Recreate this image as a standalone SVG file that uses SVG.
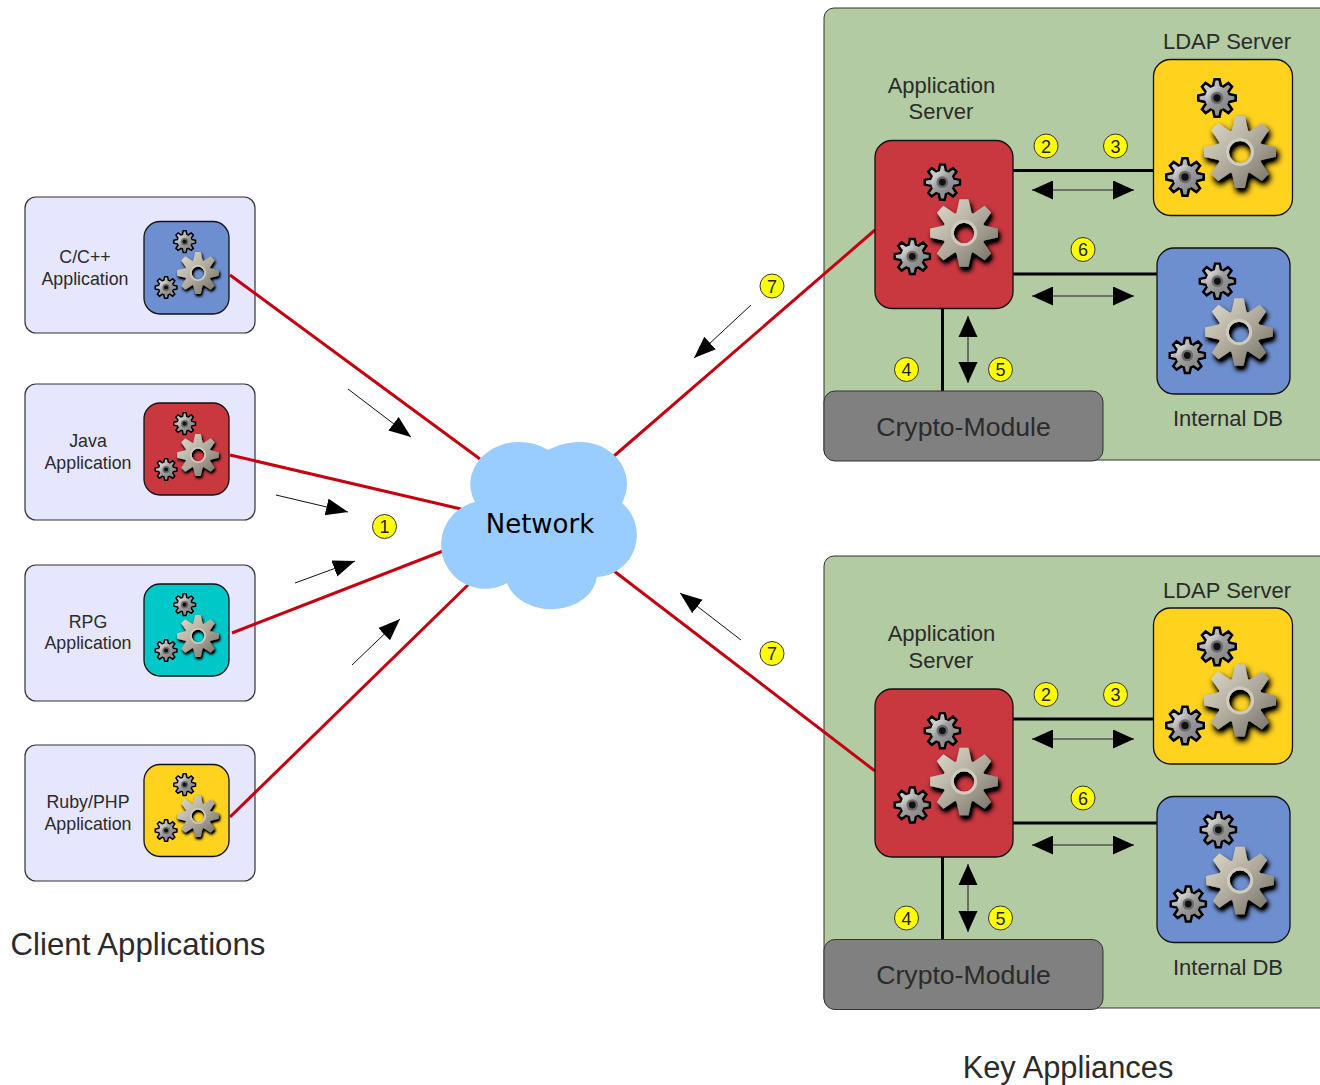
<svg xmlns="http://www.w3.org/2000/svg" width="1320" height="1085" viewBox="0 0 1320 1085">
<style>
text{font-family:"Liberation Sans",Arial,sans-serif;fill:#2b2b2b;text-anchor:middle}
.app{fill:#e6e6ff;stroke:#333;stroke-width:1.2}
.tile{stroke:#111;stroke-width:1.3}
.panel{fill:#b2cba3;stroke:#333;stroke-width:1}
.crypto{fill:#808080;stroke:#333;stroke-width:1}
.red{stroke:#c8000f;stroke-width:3;fill:none}
.blk{stroke:#000;stroke-width:3;fill:none}
.dbl{stroke:#555;stroke-width:1.6;fill:none;marker-start:url(#hs);marker-end:url(#he)}
.thin{stroke:#111;stroke-width:1;fill:none;marker-end:url(#ha)}
.num circle{fill:#ff0;stroke:#333;stroke-width:1}
.num text{font-size:18px;fill:#222}
.t13{font-size:17.8px}
.t21{font-size:22px}
.t23{font-size:22px}
.t28{font-size:26.6px}
.t31{font-size:31.2px}
.t31k{font-size:30.8px}
</style>
<defs>
<linearGradient id="gb" x1="0" y1="0" x2="1" y2="1"><stop offset="0" stop-color="#e4e0d2"/><stop offset=".5" stop-color="#b0ab9c"/><stop offset="1" stop-color="#6f6b62"/></linearGradient>
<linearGradient id="gs" x1="0" y1="0" x2="1" y2="1"><stop offset="0" stop-color="#f2f2f2"/><stop offset=".45" stop-color="#a0a0a0"/><stop offset="1" stop-color="#808080"/></linearGradient>
<filter id="sh" x="-40%" y="-40%" width="190%" height="190%"><feGaussianBlur in="SourceAlpha" stdDeviation="3"/><feOffset dx="2" dy="4" result="b"/><feFlood flood-color="#000"/><feComposite in2="b" operator="in"/><feComponentTransfer result="c"><feFuncA type="linear" slope="1.5"/></feComponentTransfer><feMerge><feMergeNode in="c"/><feMergeNode in="SourceGraphic"/></feMerge></filter>
<marker id="he" markerUnits="userSpaceOnUse" markerWidth="24" markerHeight="20" refX="21" refY="9.500" orient="auto"><path d="M0 0L21 9.500L0 19Z" fill="#000"/></marker>
<marker id="hs" markerUnits="userSpaceOnUse" markerWidth="24" markerHeight="20" refX="0" refY="9.500" orient="auto"><path d="M21 0L0 9.500L21 19Z" fill="#000"/></marker>
<marker id="ha" markerUnits="userSpaceOnUse" markerWidth="24" markerHeight="20" refX="22" refY="8.500" orient="auto"><path d="M0 0L22 8.500L0 17Z" fill="#000"/></marker>
<path id="gear" fill-rule="evenodd" d="M21.500-8L36-4.800L36 4.800L21.500 8L20.500 9.500L28.900 21.900L21.900 28.900L9.500 20.500L8 21.500L4.800 36L-4.800 36L-8 21.500L-9.500 20.500L-21.900 28.900L-28.900 21.900L-20.500 9.500L-21.500 8L-36 4.800L-36-4.800L-21.500-8L-20.500-9.500L-28.900-21.900L-21.900-28.900L-9.500-20.500L-8-21.500L-4.800-36L4.800-36L8-21.500L9.500-20.500L21.900-28.900L28.900-21.900L20.500-9.500ZM11 0A11 11 0 1 0-11 0A11 11 0 1 0 11 0Z"/>
<g id="small"><use href="#gear" fill="url(#gs)" stroke="#000" stroke-width="5"/><circle r="23" fill="url(#gs)"/><circle r="12" fill="#6a6a6a"/><circle r="7" fill="#111"/></g>
<g id="gears">
<g filter="url(#sh)"><use href="#gear" fill="url(#gb)"/><circle r="12.500" fill="none" stroke="#cfcbbd" stroke-width="3"/></g>
<use href="#small" transform="translate(-23,-54) scale(.52)"/>
<use href="#small" transform="translate(-55,25) scale(.52)"/>
</g>
</defs>

<g id="panel-top"><rect class="panel" x="824" y="8" width="520" height="452" rx="10"/></g>
<g id="panel-bottom"><rect class="panel" x="824" y="556" width="520" height="452" rx="10"/></g>

<g id="client-cpp"><rect class="app" x="25" y="197" width="230" height="136" rx="11"/><rect class="tile" x="144" y="221.500" width="85" height="92.500" rx="16" fill="#6d8ecf"/><use href="#gears" transform="translate(198,273) scale(.58)"/><text class="t13" x="85" y="263">C/C++</text><text class="t13" x="85" y="285">Application</text></g>
<g id="client-java"><rect class="app" x="25" y="384" width="230" height="136" rx="11"/><rect class="tile" x="144" y="403" width="85" height="92" rx="16" fill="#c9373f"/><use href="#gears" transform="translate(198,455) scale(.58)"/><text class="t13" x="88" y="447">Java</text><text class="t13" x="88" y="469">Application</text></g>
<g id="client-rpg"><rect class="app" x="25" y="565" width="230" height="136" rx="11"/><rect class="tile" x="144" y="584" width="85" height="92" rx="16" fill="#00c8c8"/><use href="#gears" transform="translate(198,636) scale(.58)"/><text class="t13" x="88" y="628">RPG</text><text class="t13" x="88" y="649">Application</text></g>
<g id="client-ruby"><rect class="app" x="25" y="745" width="230" height="136" rx="11"/><rect class="tile" x="144" y="764.500" width="85" height="92" rx="16" fill="#ffd21e"/><use href="#gears" transform="translate(198,816) scale(.58)"/><text class="t13" x="88" y="808">Ruby/PHP</text><text class="t13" x="88" y="830">Application</text></g>

<g id="connectors">
<path class="red" d="M230 275L480 459M230 455L461 509M232 633L443 551M230 817L471 582M614 456L875 230M614 571L875 771"/>
<path class="blk" d="M1013 170.500H1153M1013 274H1157M942.500 308V391"/>
<path class="blk" d="M1013 719H1153M1013 823H1157M942.500 857V939"/>
<path class="dbl" d="M1032 190H1134"/>
<path class="dbl" d="M1032 296H1134"/>
<path class="dbl" d="M968 316V383"/>
<path class="dbl" d="M1032 739H1134"/>
<path class="dbl" d="M1032 845H1134"/>
<path class="dbl" d="M968 864V932"/>
<path class="thin" d="M348 389L411 437"/>
<path class="thin" d="M276 495L348 512"/>
<path class="thin" d="M295 583L355 561"/>
<path class="thin" d="M352 665L400 619"/>
<path class="thin" d="M751 305L694 358"/>
<path class="thin" d="M741 640L680 593"/>
</g>

<g id="network"><path fill="#99ccff" d="M548 450C560 444 570 442 580 442C606 442 627 461 627 484C627 491 625 497 622 503A42 42 0 0 1 597 577A46 36 0 0 1 507 583A44 44 0 1 1 475 502A49 42 0 0 1 548 450Z"/><text x="540" y="533" style="font-family:'DejaVu Sans',sans-serif;font-size:26px;fill:#000">Network</text></g>

<g id="app-server-1"><rect class="tile" x="875" y="140.500" width="138" height="168" rx="17" fill="#c9373f"/><use href="#gears" transform="translate(964,233) scale(.94)"/></g>
<g id="ldap-1"><rect class="tile" x="1153.500" y="59.500" width="139" height="156" rx="17" fill="#ffd21e"/><use href="#gears" transform="translate(1240,152)"/></g>
<g id="db-1"><rect class="tile" x="1157" y="248" width="133" height="146" rx="17" fill="#6d8ecf"/><use href="#gears" transform="translate(1239,332) scale(.94)"/></g>
<g id="crypto-1"><rect class="crypto" x="824" y="391" width="279" height="70" rx="11"/><text class="t28" x="963.500" y="436">Crypto-Module</text></g>

<g id="app-server-2"><rect class="tile" x="875" y="689" width="138" height="168" rx="17" fill="#c9373f"/><use href="#gears" transform="translate(964,781.500) scale(.94)"/></g>
<g id="ldap-2"><rect class="tile" x="1153.500" y="608" width="139" height="156" rx="17" fill="#ffd21e"/><use href="#gears" transform="translate(1240,700.500)"/></g>
<g id="db-2"><rect class="tile" x="1157" y="796.500" width="133" height="146" rx="17" fill="#6d8ecf"/><use href="#gears" transform="translate(1240,880.500) scale(.94)"/></g>
<g id="crypto-2"><rect class="crypto" x="824" y="939.500" width="279" height="70" rx="11"/><text class="t28" x="963.500" y="984">Crypto-Module</text></g>

<g id="labels">
<text class="t23" x="1227" y="48.500">LDAP Server</text>
<text class="t23" x="1227" y="597.500">LDAP Server</text>
<text class="t23" x="941.500" y="93">Application</text>
<text class="t23" x="941" y="119">Server</text>
<text class="t23" x="941.500" y="641">Application</text>
<text class="t23" x="941" y="668">Server</text>
<text class="t21" x="1228" y="426">Internal DB</text>
<text class="t21" x="1228" y="975">Internal DB</text>
<text class="t31" x="138" y="955">Client Applications</text>
<text class="t31k" x="1068" y="1078">Key Appliances</text>
</g>

<g id="badges">
<g class="num"><circle cx="384.500" cy="526.500" r="12"/><text x="384.500" y="533">1</text></g>
<g class="num"><circle cx="1046" cy="146" r="12"/><text x="1046" y="152.500">2</text></g>
<g class="num"><circle cx="1115.500" cy="146" r="12"/><text x="1115.500" y="152.500">3</text></g>
<g class="num"><circle cx="1083" cy="249.500" r="12"/><text x="1083" y="256">6</text></g>
<g class="num"><circle cx="906.500" cy="369.500" r="12"/><text x="906.500" y="376">4</text></g>
<g class="num"><circle cx="1000.500" cy="369.500" r="12"/><text x="1000.500" y="376">5</text></g>
<g class="num"><circle cx="772" cy="286" r="12"/><text x="772" y="292.500">7</text></g>
<g class="num"><circle cx="772" cy="653.500" r="12"/><text x="772" y="660">7</text></g>
<g class="num"><circle cx="1046" cy="694.500" r="12"/><text x="1046" y="701">2</text></g>
<g class="num"><circle cx="1115.500" cy="694.500" r="12"/><text x="1115.500" y="701">3</text></g>
<g class="num"><circle cx="1083" cy="798" r="12"/><text x="1083" y="804.500">6</text></g>
<g class="num"><circle cx="906.500" cy="918" r="12"/><text x="906.500" y="924.500">4</text></g>
<g class="num"><circle cx="1000.500" cy="918" r="12"/><text x="1000.500" y="924.500">5</text></g>
</g>
</svg>
